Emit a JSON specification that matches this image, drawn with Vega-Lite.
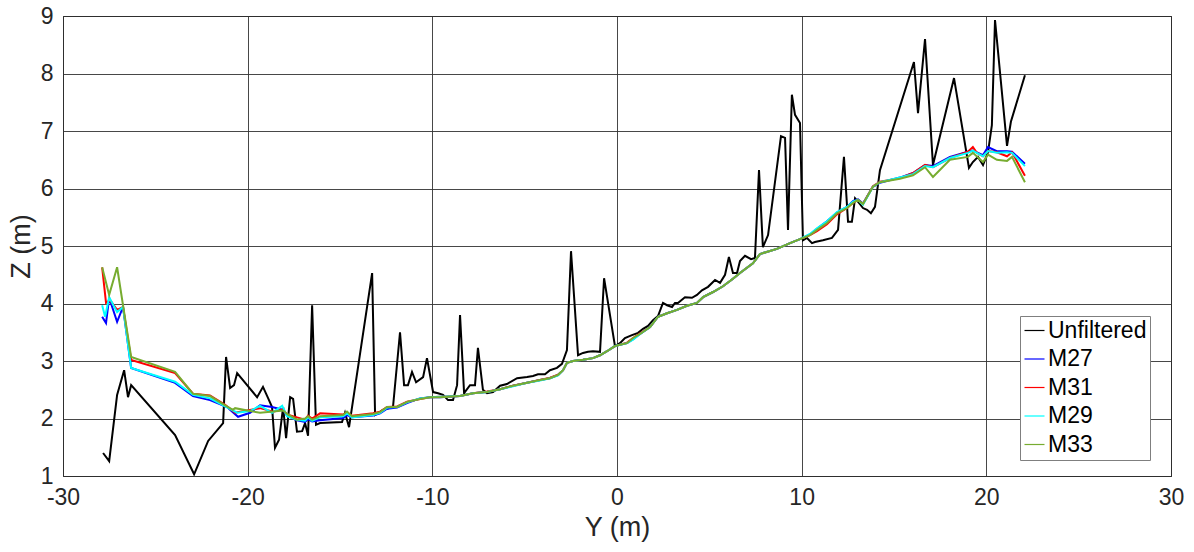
{
 "$schema": "https://vega.github.io/schema/vega-lite/v6.json",
 "width": 1108, "height": 460,
 "autosize": "none",
 "padding": {"left": 63, "top": 16, "right": 23, "bottom": 76},
 "background": "white",
 "config": {
  "font": "Liberation Sans",
  "view": {"stroke": "#000000", "strokeWidth": 1},
  "axis": {"domain": false, "ticks": false, "grid": true, "gridColor": "#333333", "gridOpacity": 0.9, "gridWidth": 1,
   "labelFontSize": 23, "labelColor": "#262626", "labelFont": "Liberation Sans", "labelFlush": false,
   "labelExpr": "datum.value + ''",
   "titleFontSize": 27, "titleFontWeight": "normal", "titleColor": "#262626", "titleFont": "Liberation Sans"}
 },
 "data": {"values": [
  {"series":"Unfiltered","y":-27.83,"z":1.40},{"series":"Unfiltered","y":-27.50,"z":1.26},{"series":"Unfiltered","y":-27.07,"z":2.41},{"series":"Unfiltered","y":-26.69,"z":2.84},{"series":"Unfiltered","y":-26.48,"z":2.37},{"series":"Unfiltered","y":-26.31,"z":2.58},{"series":"Unfiltered","y":-23.93,"z":1.71},{"series":"Unfiltered","y":-22.90,"z":1.03},{"series":"Unfiltered","y":-22.14,"z":1.61},{"series":"Unfiltered","y":-21.33,"z":1.92},{"series":"Unfiltered","y":-21.17,"z":3.07},{"series":"Unfiltered","y":-20.95,"z":2.53},{"series":"Unfiltered","y":-20.74,"z":2.58},{"series":"Unfiltered","y":-20.57,"z":2.79},{"series":"Unfiltered","y":-19.49,"z":2.37},{"series":"Unfiltered","y":-19.17,"z":2.55},{"series":"Unfiltered","y":-18.90,"z":2.36},{"series":"Unfiltered","y":-18.68,"z":2.20},{"series":"Unfiltered","y":-18.52,"z":1.49},{"series":"Unfiltered","y":-18.30,"z":1.63},{"series":"Unfiltered","y":-18.08,"z":2.20},{"series":"Unfiltered","y":-17.92,"z":1.66},{"series":"Unfiltered","y":-17.70,"z":2.37},{"series":"Unfiltered","y":-17.54,"z":2.34},{"series":"Unfiltered","y":-17.33,"z":1.77},{"series":"Unfiltered","y":-17.05,"z":1.78},{"series":"Unfiltered","y":-16.89,"z":1.92},{"series":"Unfiltered","y":-16.73,"z":1.70},{"series":"Unfiltered","y":-16.51,"z":3.97},{"series":"Unfiltered","y":-16.30,"z":1.89},{"series":"Unfiltered","y":-16.08,"z":1.92},{"series":"Unfiltered","y":-14.89,"z":1.94},{"series":"Unfiltered","y":-14.73,"z":2.10},{"series":"Unfiltered","y":-14.51,"z":1.85},{"series":"Unfiltered","y":-13.26,"z":4.53},{"series":"Unfiltered","y":-13.10,"z":2.06},{"series":"Unfiltered","y":-12.67,"z":2.15},{"series":"Unfiltered","y":-12.13,"z":2.20},{"series":"Unfiltered","y":-11.75,"z":3.50},{"series":"Unfiltered","y":-11.53,"z":2.58},{"series":"Unfiltered","y":-11.32,"z":2.58},{"series":"Unfiltered","y":-11.10,"z":2.81},{"series":"Unfiltered","y":-10.88,"z":2.63},{"series":"Unfiltered","y":-10.50,"z":2.72},{"series":"Unfiltered","y":-10.29,"z":3.05},{"series":"Unfiltered","y":-9.96,"z":2.46},{"series":"Unfiltered","y":-9.69,"z":2.44},{"series":"Unfiltered","y":-9.42,"z":2.41},{"series":"Unfiltered","y":-9.15,"z":2.32},{"series":"Unfiltered","y":-8.88,"z":2.32},{"series":"Unfiltered","y":-8.66,"z":2.58},{"series":"Unfiltered","y":-8.50,"z":3.80},{"series":"Unfiltered","y":-8.28,"z":2.44},{"series":"Unfiltered","y":-7.96,"z":2.58},{"series":"Unfiltered","y":-7.69,"z":2.58},{"series":"Unfiltered","y":-7.53,"z":3.23},{"series":"Unfiltered","y":-7.26,"z":2.50},{"series":"Unfiltered","y":-7.04,"z":2.44},{"series":"Unfiltered","y":-6.71,"z":2.46},{"series":"Unfiltered","y":-6.33,"z":2.57},{"series":"Unfiltered","y":-5.96,"z":2.60},{"series":"Unfiltered","y":-5.41,"z":2.70},{"series":"Unfiltered","y":-4.87,"z":2.72},{"series":"Unfiltered","y":-4.55,"z":2.74},{"series":"Unfiltered","y":-4.28,"z":2.77},{"series":"Unfiltered","y":-3.90,"z":2.77},{"series":"Unfiltered","y":-3.63,"z":2.84},{"series":"Unfiltered","y":-3.25,"z":2.88},{"series":"Unfiltered","y":-2.98,"z":2.95},{"series":"Unfiltered","y":-2.71,"z":3.19},{"series":"Unfiltered","y":-2.49,"z":4.91},{"series":"Unfiltered","y":-2.11,"z":3.10},{"series":"Unfiltered","y":-1.84,"z":3.14},{"series":"Unfiltered","y":-1.57,"z":3.16},{"series":"Unfiltered","y":-1.30,"z":3.17},{"series":"Unfiltered","y":-0.92,"z":3.16},{"series":"Unfiltered","y":-0.70,"z":4.44},{"series":"Unfiltered","y":-0.11,"z":3.26},{"series":"Unfiltered","y":0.16,"z":3.31},{"series":"Unfiltered","y":0.43,"z":3.40},{"series":"Unfiltered","y":0.81,"z":3.45},{"series":"Unfiltered","y":1.14,"z":3.49},{"series":"Unfiltered","y":1.41,"z":3.56},{"series":"Unfiltered","y":1.68,"z":3.61},{"series":"Unfiltered","y":1.95,"z":3.71},{"series":"Unfiltered","y":2.22,"z":3.78},{"series":"Unfiltered","y":2.49,"z":4.01},{"series":"Unfiltered","y":2.71,"z":3.97},{"series":"Unfiltered","y":2.98,"z":3.94},{"series":"Unfiltered","y":3.14,"z":4.01},{"series":"Unfiltered","y":3.30,"z":4.01},{"series":"Unfiltered","y":3.68,"z":4.11},{"series":"Unfiltered","y":4.06,"z":4.10},{"series":"Unfiltered","y":4.33,"z":4.15},{"series":"Unfiltered","y":4.60,"z":4.23},{"series":"Unfiltered","y":4.93,"z":4.29},{"series":"Unfiltered","y":5.31,"z":4.41},{"series":"Unfiltered","y":5.58,"z":4.36},{"series":"Unfiltered","y":5.85,"z":4.50},{"series":"Unfiltered","y":6.06,"z":4.81},{"series":"Unfiltered","y":6.28,"z":4.53},{"series":"Unfiltered","y":6.50,"z":4.53},{"series":"Unfiltered","y":6.66,"z":4.74},{"series":"Unfiltered","y":6.93,"z":4.83},{"series":"Unfiltered","y":7.26,"z":4.77},{"series":"Unfiltered","y":7.47,"z":4.79},{"series":"Unfiltered","y":7.69,"z":6.32},{"series":"Unfiltered","y":7.90,"z":4.98},{"series":"Unfiltered","y":8.18,"z":5.19},{"series":"Unfiltered","y":8.88,"z":6.91},{"series":"Unfiltered","y":9.10,"z":6.88},{"series":"Unfiltered","y":9.26,"z":5.28},{"series":"Unfiltered","y":9.47,"z":7.63},{"series":"Unfiltered","y":9.64,"z":7.28},{"series":"Unfiltered","y":9.91,"z":7.14},{"series":"Unfiltered","y":10.07,"z":5.10},{"series":"Unfiltered","y":10.29,"z":5.14},{"series":"Unfiltered","y":10.56,"z":5.05},{"series":"Unfiltered","y":10.72,"z":5.07},{"series":"Unfiltered","y":11.15,"z":5.10},{"series":"Unfiltered","y":11.64,"z":5.14},{"series":"Unfiltered","y":11.97,"z":5.28},{"series":"Unfiltered","y":12.29,"z":6.55},{"series":"Unfiltered","y":12.51,"z":5.42},{"series":"Unfiltered","y":12.72,"z":5.42},{"series":"Unfiltered","y":12.89,"z":5.83},{"series":"Unfiltered","y":13.05,"z":5.77},{"series":"Unfiltered","y":13.32,"z":5.66},{"series":"Unfiltered","y":13.54,"z":5.63},{"series":"Unfiltered","y":13.75,"z":5.57},{"series":"Unfiltered","y":13.97,"z":5.68},{"series":"Unfiltered","y":14.24,"z":6.32},{"series":"Unfiltered","y":16.08,"z":8.20},{"series":"Unfiltered","y":16.30,"z":7.31},{"series":"Unfiltered","y":16.68,"z":8.60},{"series":"Unfiltered","y":17.11,"z":6.41},{"series":"Unfiltered","y":18.25,"z":7.92},{"series":"Unfiltered","y":19.06,"z":6.36},{"series":"Unfiltered","y":19.27,"z":6.46},{"series":"Unfiltered","y":19.55,"z":6.55},{"series":"Unfiltered","y":19.82,"z":6.41},{"series":"Unfiltered","y":20.09,"z":6.63},{"series":"Unfiltered","y":20.30,"z":7.10},{"series":"Unfiltered","y":20.47,"z":8.93},{"series":"Unfiltered","y":21.12,"z":6.74},{"series":"Unfiltered","y":21.33,"z":7.16},{"series":"Unfiltered","y":22.09,"z":7.97},

  {"series":"M27","y":-27.88,"z":3.77},{"series":"M27","y":-27.67,"z":3.66},{"series":"M27","y":-27.50,"z":4.10},{"series":"M27","y":-27.07,"z":3.68},{"series":"M27","y":-26.75,"z":3.94},{"series":"M27","y":-26.31,"z":2.88},{"series":"M27","y":-23.93,"z":2.62},{"series":"M27","y":-22.96,"z":2.39},{"series":"M27","y":-22.04,"z":2.32},{"series":"M27","y":-21.12,"z":2.20},{"series":"M27","y":-20.52,"z":2.03},{"series":"M27","y":-19.87,"z":2.10},{"series":"M27","y":-19.33,"z":2.23},{"series":"M27","y":-18.68,"z":2.20},{"series":"M27","y":-18.08,"z":2.15},{"series":"M27","y":-17.87,"z":2.05},{"series":"M27","y":-17.33,"z":1.97},{"series":"M27","y":-16.89,"z":1.94},{"series":"M27","y":-16.73,"z":1.99},{"series":"M27","y":-16.51,"z":1.95},{"series":"M27","y":-16.08,"z":1.97},{"series":"M27","y":-14.83,"z":2.01},{"series":"M27","y":-14.62,"z":2.06},{"series":"M27","y":-14.35,"z":2.02},{"series":"M27","y":-13.21,"z":2.05},{"series":"M27","y":-12.83,"z":2.09},{"series":"M27","y":-12.45,"z":2.17},{"series":"M27","y":-11.91,"z":2.19},{"series":"M27","y":-11.37,"z":2.27},{"series":"M27","y":-10.67,"z":2.35},{"series":"M27","y":-10.12,"z":2.37},{"series":"M27","y":-9.58,"z":2.37},{"series":"M27","y":-8.50,"z":2.39},{"series":"M27","y":-7.80,"z":2.44},{"series":"M27","y":-7.04,"z":2.46},{"series":"M27","y":-6.33,"z":2.51},{"series":"M27","y":-5.63,"z":2.57},{"series":"M27","y":-4.87,"z":2.62},{"series":"M27","y":-4.17,"z":2.67},{"series":"M27","y":-3.63,"z":2.70},{"series":"M27","y":-3.19,"z":2.76},{"series":"M27","y":-2.92,"z":2.84},{"series":"M27","y":-2.71,"z":2.97},{"series":"M27","y":-2.38,"z":3.00},{"series":"M27","y":-1.84,"z":3.02},{"series":"M27","y":-1.30,"z":3.05},{"series":"M27","y":-0.92,"z":3.10},{"series":"M27","y":-0.54,"z":3.17},{"series":"M27","y":-0.11,"z":3.26},{"series":"M27","y":0.54,"z":3.31},{"series":"M27","y":0.87,"z":3.38},{"series":"M27","y":1.25,"z":3.47},{"series":"M27","y":1.79,"z":3.59},{"series":"M27","y":2.22,"z":3.77},{"series":"M27","y":2.71,"z":3.83},{"series":"M27","y":3.25,"z":3.89},{"series":"M27","y":3.79,"z":3.96},{"series":"M27","y":4.33,"z":4.01},{"series":"M27","y":4.66,"z":4.11},{"series":"M27","y":5.20,"z":4.20},{"series":"M27","y":5.74,"z":4.30},{"series":"M27","y":6.28,"z":4.43},{"series":"M27","y":6.66,"z":4.53},{"series":"M27","y":7.36,"z":4.70},{"series":"M27","y":7.74,"z":4.86},{"series":"M27","y":8.66,"z":4.95},{"series":"M27","y":9.37,"z":5.05},{"series":"M27","y":9.91,"z":5.12},{"series":"M27","y":10.45,"z":5.20},{"series":"M27","y":10.83,"z":5.30},{"series":"M27","y":11.37,"z":5.43},{"series":"M27","y":11.91,"z":5.58},{"series":"M27","y":12.45,"z":5.68},{"series":"M27","y":12.78,"z":5.78},{"series":"M27","y":13.05,"z":5.81},{"series":"M27","y":13.32,"z":5.74},{"series":"M27","y":13.86,"z":6.03},{"series":"M27","y":14.24,"z":6.10},{"series":"M27","y":15.32,"z":6.19},{"series":"M27","y":16.03,"z":6.27},{"series":"M27","y":16.68,"z":6.41},{"series":"M27","y":17.11,"z":6.39},{"series":"M27","y":18.03,"z":6.55},{"series":"M27","y":19.00,"z":6.64},{"series":"M27","y":19.27,"z":6.66},{"series":"M27","y":19.82,"z":6.58},{"series":"M27","y":20.09,"z":6.72},{"series":"M27","y":20.57,"z":6.65},{"series":"M27","y":21.12,"z":6.65},{"series":"M27","y":21.39,"z":6.64},{"series":"M27","y":22.09,"z":6.43},

  {"series":"M31","y":-27.88,"z":4.63},{"series":"M31","y":-27.67,"z":4.01},{"series":"M31","y":-27.45,"z":4.06},{"series":"M31","y":-27.07,"z":3.89},{"series":"M31","y":-26.75,"z":3.94},{"series":"M31","y":-26.31,"z":3.02},{"series":"M31","y":-23.93,"z":2.79},{"series":"M31","y":-22.96,"z":2.43},{"series":"M31","y":-22.04,"z":2.40},{"series":"M31","y":-21.22,"z":2.24},{"series":"M31","y":-20.68,"z":2.10},{"series":"M31","y":-19.87,"z":2.15},{"series":"M31","y":-19.33,"z":2.18},{"series":"M31","y":-18.62,"z":2.12},{"series":"M31","y":-18.08,"z":2.16},{"series":"M31","y":-17.87,"z":2.07},{"series":"M31","y":-17.33,"z":2.02},{"series":"M31","y":-16.89,"z":1.98},{"series":"M31","y":-16.73,"z":2.05},{"series":"M31","y":-16.51,"z":2.00},{"series":"M31","y":-16.08,"z":2.09},{"series":"M31","y":-14.83,"z":2.07},{"series":"M31","y":-14.62,"z":2.10},{"series":"M31","y":-14.35,"z":2.05},{"series":"M31","y":-13.21,"z":2.09},{"series":"M31","y":-12.83,"z":2.12},{"series":"M31","y":-12.45,"z":2.20},{"series":"M31","y":-11.91,"z":2.21},{"series":"M31","y":-11.37,"z":2.29},{"series":"M31","y":-10.67,"z":2.34},{"series":"M31","y":-10.12,"z":2.37},{"series":"M31","y":-9.58,"z":2.38},{"series":"M31","y":-8.50,"z":2.39},{"series":"M31","y":-7.80,"z":2.44},{"series":"M31","y":-7.04,"z":2.47},{"series":"M31","y":-6.33,"z":2.51},{"series":"M31","y":-5.63,"z":2.57},{"series":"M31","y":-4.87,"z":2.62},{"series":"M31","y":-4.17,"z":2.67},{"series":"M31","y":-3.63,"z":2.71},{"series":"M31","y":-3.19,"z":2.76},{"series":"M31","y":-2.92,"z":2.84},{"series":"M31","y":-2.71,"z":2.97},{"series":"M31","y":-2.38,"z":3.00},{"series":"M31","y":-1.84,"z":3.02},{"series":"M31","y":-1.30,"z":3.05},{"series":"M31","y":-0.92,"z":3.10},{"series":"M31","y":-0.54,"z":3.17},{"series":"M31","y":-0.11,"z":3.26},{"series":"M31","y":0.54,"z":3.32},{"series":"M31","y":0.87,"z":3.40},{"series":"M31","y":1.25,"z":3.48},{"series":"M31","y":1.79,"z":3.59},{"series":"M31","y":2.22,"z":3.77},{"series":"M31","y":2.71,"z":3.83},{"series":"M31","y":3.25,"z":3.89},{"series":"M31","y":3.79,"z":3.96},{"series":"M31","y":4.33,"z":4.01},{"series":"M31","y":4.66,"z":4.11},{"series":"M31","y":5.20,"z":4.20},{"series":"M31","y":5.74,"z":4.30},{"series":"M31","y":6.28,"z":4.43},{"series":"M31","y":6.66,"z":4.53},{"series":"M31","y":7.36,"z":4.70},{"series":"M31","y":7.74,"z":4.86},{"series":"M31","y":8.66,"z":4.95},{"series":"M31","y":9.37,"z":5.05},{"series":"M31","y":9.91,"z":5.12},{"series":"M31","y":10.45,"z":5.19},{"series":"M31","y":10.83,"z":5.26},{"series":"M31","y":11.37,"z":5.38},{"series":"M31","y":11.91,"z":5.55},{"series":"M31","y":12.45,"z":5.66},{"series":"M31","y":12.78,"z":5.75},{"series":"M31","y":13.05,"z":5.80},{"series":"M31","y":13.32,"z":5.73},{"series":"M31","y":13.86,"z":6.04},{"series":"M31","y":14.24,"z":6.12},{"series":"M31","y":15.32,"z":6.18},{"series":"M31","y":16.03,"z":6.27},{"series":"M31","y":16.68,"z":6.41},{"series":"M31","y":17.11,"z":6.37},{"series":"M31","y":18.03,"z":6.53},{"series":"M31","y":19.00,"z":6.64},{"series":"M31","y":19.27,"z":6.72},{"series":"M31","y":19.49,"z":6.62},{"series":"M31","y":19.82,"z":6.56},{"series":"M31","y":20.09,"z":6.65},{"series":"M31","y":20.57,"z":6.63},{"series":"M31","y":21.12,"z":6.56},{"series":"M31","y":21.39,"z":6.63},{"series":"M31","y":22.09,"z":6.22},

  {"series":"M29","y":-27.88,"z":3.97},{"series":"M29","y":-27.72,"z":3.77},{"series":"M29","y":-27.50,"z":4.11},{"series":"M29","y":-27.07,"z":3.85},{"series":"M29","y":-26.75,"z":3.94},{"series":"M29","y":-26.31,"z":2.88},{"series":"M29","y":-23.93,"z":2.64},{"series":"M29","y":-22.96,"z":2.41},{"series":"M29","y":-22.04,"z":2.35},{"series":"M29","y":-21.22,"z":2.21},{"series":"M29","y":-20.57,"z":2.10},{"series":"M29","y":-19.87,"z":2.13},{"series":"M29","y":-19.33,"z":2.22},{"series":"M29","y":-18.68,"z":2.10},{"series":"M29","y":-18.13,"z":2.22},{"series":"M29","y":-17.87,"z":2.04},{"series":"M29","y":-17.33,"z":1.98},{"series":"M29","y":-16.89,"z":1.96},{"series":"M29","y":-16.73,"z":2.02},{"series":"M29","y":-16.51,"z":1.96},{"series":"M29","y":-16.08,"z":2.02},{"series":"M29","y":-14.83,"z":2.04},{"series":"M29","y":-14.62,"z":2.09},{"series":"M29","y":-14.35,"z":2.02},{"series":"M29","y":-13.21,"z":2.06},{"series":"M29","y":-12.83,"z":2.10},{"series":"M29","y":-12.45,"z":2.19},{"series":"M29","y":-11.91,"z":2.20},{"series":"M29","y":-11.37,"z":2.28},{"series":"M29","y":-10.67,"z":2.35},{"series":"M29","y":-10.12,"z":2.37},{"series":"M29","y":-9.58,"z":2.38},{"series":"M29","y":-8.50,"z":2.39},{"series":"M29","y":-7.80,"z":2.44},{"series":"M29","y":-7.04,"z":2.46},{"series":"M29","y":-6.33,"z":2.51},{"series":"M29","y":-5.63,"z":2.56},{"series":"M29","y":-4.87,"z":2.62},{"series":"M29","y":-4.17,"z":2.66},{"series":"M29","y":-3.63,"z":2.70},{"series":"M29","y":-3.19,"z":2.75},{"series":"M29","y":-2.92,"z":2.84},{"series":"M29","y":-2.71,"z":2.97},{"series":"M29","y":-2.38,"z":3.00},{"series":"M29","y":-1.84,"z":3.02},{"series":"M29","y":-1.30,"z":3.05},{"series":"M29","y":-0.92,"z":3.10},{"series":"M29","y":-0.54,"z":3.17},{"series":"M29","y":-0.11,"z":3.26},{"series":"M29","y":0.54,"z":3.31},{"series":"M29","y":0.87,"z":3.37},{"series":"M29","y":1.25,"z":3.47},{"series":"M29","y":1.79,"z":3.59},{"series":"M29","y":2.22,"z":3.77},{"series":"M29","y":2.71,"z":3.83},{"series":"M29","y":3.25,"z":3.89},{"series":"M29","y":3.79,"z":3.96},{"series":"M29","y":4.33,"z":4.01},{"series":"M29","y":4.66,"z":4.11},{"series":"M29","y":5.20,"z":4.20},{"series":"M29","y":5.74,"z":4.30},{"series":"M29","y":6.28,"z":4.43},{"series":"M29","y":6.66,"z":4.53},{"series":"M29","y":7.36,"z":4.70},{"series":"M29","y":7.74,"z":4.86},{"series":"M29","y":8.66,"z":4.95},{"series":"M29","y":9.37,"z":5.05},{"series":"M29","y":9.91,"z":5.12},{"series":"M29","y":10.45,"z":5.21},{"series":"M29","y":10.83,"z":5.31},{"series":"M29","y":11.37,"z":5.43},{"series":"M29","y":11.91,"z":5.59},{"series":"M29","y":12.45,"z":5.68},{"series":"M29","y":12.78,"z":5.77},{"series":"M29","y":13.05,"z":5.80},{"series":"M29","y":13.32,"z":5.72},{"series":"M29","y":13.86,"z":6.03},{"series":"M29","y":14.24,"z":6.11},{"series":"M29","y":15.32,"z":6.19},{"series":"M29","y":16.03,"z":6.25},{"series":"M29","y":16.68,"z":6.39},{"series":"M29","y":17.11,"z":6.37},{"series":"M29","y":18.03,"z":6.53},{"series":"M29","y":19.00,"z":6.62},{"series":"M29","y":19.27,"z":6.66},{"series":"M29","y":19.82,"z":6.56},{"series":"M29","y":20.09,"z":6.65},{"series":"M29","y":20.57,"z":6.62},{"series":"M29","y":21.12,"z":6.63},{"series":"M29","y":21.39,"z":6.62},{"series":"M29","y":22.09,"z":6.39},

  {"series":"M33","y":-27.88,"z":4.63},{"series":"M33","y":-27.50,"z":4.15},{"series":"M33","y":-27.07,"z":4.63},{"series":"M33","y":-26.75,"z":3.97},{"series":"M33","y":-26.31,"z":3.07},{"series":"M33","y":-23.93,"z":2.81},{"series":"M33","y":-22.96,"z":2.43},{"series":"M33","y":-22.04,"z":2.39},{"series":"M33","y":-21.22,"z":2.23},{"series":"M33","y":-20.80,"z":2.15},{"series":"M33","y":-20.68,"z":2.18},{"series":"M33","y":-19.87,"z":2.13},{"series":"M33","y":-19.33,"z":2.10},{"series":"M33","y":-18.62,"z":2.12},{"series":"M33","y":-18.08,"z":2.14},{"series":"M33","y":-17.87,"z":2.08},{"series":"M33","y":-17.33,"z":1.98},{"series":"M33","y":-16.89,"z":2.00},{"series":"M33","y":-16.73,"z":2.04},{"series":"M33","y":-16.51,"z":1.98},{"series":"M33","y":-16.08,"z":2.04},{"series":"M33","y":-14.83,"z":2.06},{"series":"M33","y":-14.62,"z":2.12},{"series":"M33","y":-14.35,"z":2.04},{"series":"M33","y":-13.21,"z":2.08},{"series":"M33","y":-12.83,"z":2.11},{"series":"M33","y":-12.45,"z":2.20},{"series":"M33","y":-11.91,"z":2.20},{"series":"M33","y":-11.37,"z":2.29},{"series":"M33","y":-10.67,"z":2.34},{"series":"M33","y":-10.12,"z":2.37},{"series":"M33","y":-9.58,"z":2.37},{"series":"M33","y":-8.50,"z":2.39},{"series":"M33","y":-7.80,"z":2.44},{"series":"M33","y":-7.04,"z":2.46},{"series":"M33","y":-6.33,"z":2.51},{"series":"M33","y":-5.63,"z":2.57},{"series":"M33","y":-4.87,"z":2.62},{"series":"M33","y":-4.17,"z":2.67},{"series":"M33","y":-3.63,"z":2.70},{"series":"M33","y":-3.19,"z":2.76},{"series":"M33","y":-2.92,"z":2.84},{"series":"M33","y":-2.71,"z":2.97},{"series":"M33","y":-2.38,"z":3.00},{"series":"M33","y":-1.84,"z":3.02},{"series":"M33","y":-1.30,"z":3.05},{"series":"M33","y":-0.92,"z":3.10},{"series":"M33","y":-0.54,"z":3.17},{"series":"M33","y":-0.11,"z":3.26},{"series":"M33","y":0.54,"z":3.31},{"series":"M33","y":0.87,"z":3.40},{"series":"M33","y":1.25,"z":3.47},{"series":"M33","y":1.79,"z":3.59},{"series":"M33","y":2.22,"z":3.77},{"series":"M33","y":2.71,"z":3.83},{"series":"M33","y":3.25,"z":3.89},{"series":"M33","y":3.79,"z":3.96},{"series":"M33","y":4.33,"z":4.01},{"series":"M33","y":4.66,"z":4.11},{"series":"M33","y":5.20,"z":4.20},{"series":"M33","y":5.74,"z":4.30},{"series":"M33","y":6.28,"z":4.43},{"series":"M33","y":6.66,"z":4.53},{"series":"M33","y":7.36,"z":4.70},{"series":"M33","y":7.74,"z":4.86},{"series":"M33","y":8.66,"z":4.95},{"series":"M33","y":9.37,"z":5.05},{"series":"M33","y":9.91,"z":5.12},{"series":"M33","y":10.45,"z":5.19},{"series":"M33","y":10.83,"z":5.28},{"series":"M33","y":11.37,"z":5.40},{"series":"M33","y":11.91,"z":5.57},{"series":"M33","y":12.45,"z":5.66},{"series":"M33","y":12.78,"z":5.75},{"series":"M33","y":13.05,"z":5.80},{"series":"M33","y":13.32,"z":5.73},{"series":"M33","y":13.86,"z":6.03},{"series":"M33","y":14.24,"z":6.11},{"series":"M33","y":15.32,"z":6.17},{"series":"M33","y":16.03,"z":6.23},{"series":"M33","y":16.68,"z":6.37},{"series":"M33","y":17.11,"z":6.20},{"series":"M33","y":18.03,"z":6.50},{"series":"M33","y":19.00,"z":6.55},{"series":"M33","y":19.27,"z":6.62},{"series":"M33","y":19.82,"z":6.46},{"series":"M33","y":20.09,"z":6.59},{"series":"M33","y":20.57,"z":6.50},{"series":"M33","y":21.12,"z":6.48},{"series":"M33","y":21.39,"z":6.55},{"series":"M33","y":22.09,"z":6.11}
 ]},
 "mark": {"type": "line", "strokeWidth": 2, "clip": true},
 "encoding": {
  "x": {"field": "y", "type": "quantitative",
   "scale": {"domain": [-30, 30], "nice": false, "zero": false},
   "axis": {"title": "Y (m)", "values": [-30, -20, -10, 0, 10, 20, 30], "labelPadding": 10, "titlePadding": 5}},
  "y": {"field": "z", "type": "quantitative",
   "scale": {"domain": [1, 9], "nice": false, "zero": false},
   "axis": {"title": "Z (m)", "values": [1, 2, 3, 4, 5, 6, 7, 8, 9], "labelPadding": 10, "titlePadding": 5}},
  "color": {"field": "series", "type": "nominal",
   "scale": {"domain": ["Unfiltered", "M27", "M31", "M29", "M33"], "range": ["#000000", "#0000ff", "#ff0000", "#00ffff", "#77ac30"]},
   "legend": {"title": null, "orient": "none", "legendX": 957, "legendY": 300,
    "fillColor": "white", "strokeColor": "#7f7f7f", "padding": 3,
    "symbolType": "stroke", "symbolSize": 400, "symbolStrokeWidth": 1.2,
    "labelFontSize": 23, "labelColor": "#000000", "labelOffset": 2, "rowPadding": 4.5}}
 }
}
